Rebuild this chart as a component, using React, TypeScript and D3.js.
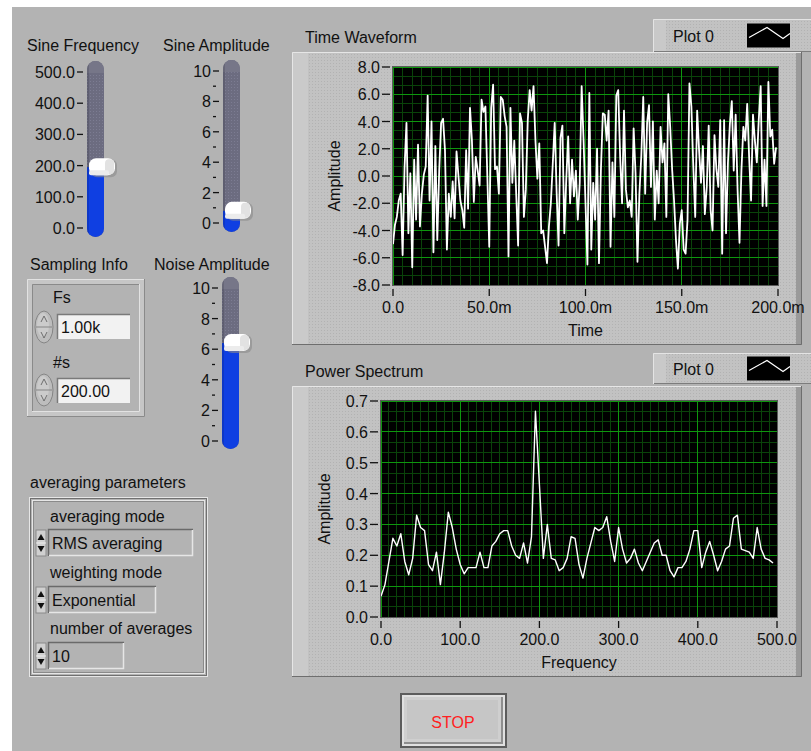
import React from 'react';
import * as d3 from 'd3';

const W = 811;
const H = 751;
const FONT = '"Liberation Sans", Arial, sans-serif';

// front panel control values
const sineFrequency = 195;
const sineAmplitude = 0.8;
const noiseAmplitude = 6.4;
const samplingRate = '1.00k';
const sampleCount = '200.00';
const averagingMode = 'RMS averaging';
const weightingMode = 'Exponential';
const numberOfAverages = '10';

// Time Waveform, 200 samples at Fs = 1 kHz
const waveAmp = [
  -5.0, -3.6, -3.0, -1.8, -1.3, -5.8, 0.6, 3.9, -4.2, 0.2,
  -6.7, 1.2, -3.2, 2.3, -3.7, -1.3, 0.1, 0.7, 5.9, -1.8,
  4.0, -5.6, 2.2, -4.7, 0.4, 3.9, 4.2, 1.9, -5.4, -1.3,
  -3.0, -0.4, -3.1, 1.8, 0.0, -1.8, -2.5, -3.8, 1.9, -2.4,
  5.0, 2.6, -1.9, 1.4, 0.4, -0.7, 5.6, 4.7, 5.1, 0.0,
  -5.2, 5.0, 6.7, 0.5, 0.7, -1.3, 5.8, 5.6, 4.4, 3.6,
  -5.9, 5.0, -0.5, 2.6, -1.3, -5.1, 4.6, 3.9, -3.0, -1.0,
  4.1, 6.3, 4.8, 6.6, 2.6, -0.2, 2.4, -4.2, -4.0, -5.2,
  -6.4, -3.7, -2.0, 0.9, 3.9, -1.2, -5.1, 2.8, 3.7, -4.2,
  -0.3, 2.9, -2.0, 1.2, -1.5, 0.4, -3.2, -0.5, 6.6, 2.6,
  -2.0, -6.5, 6.1, -5.4, -0.5, -3.2, 2.0, -6.4, 0.4, 4.6,
  4.5, 2.6, 4.8, -5.2, 1.0, -3.0, 5.9, 6.3, 1.4, -2.0,
  4.8, -1.0, -2.3, -1.8, -3.0, 3.5, 0.2, -6.3, -1.3, 1.5,
  5.8, -1.3, 3.9, 5.2, -0.8, 4.0, -3.2, 0.4, -2.0, 3.6,
  1.0, 2.4, -3.0, 6.0, 3.6, 0.5, -1.8, -4.7, -6.8, -3.5,
  -2.5, -5.4, -5.7, -3.2, 6.8, 5.1, 0.7, -3.0, 4.8, 1.9,
  -0.5, 2.2, -2.8, -0.8, 3.7, -2.5, -4.0, 3.0, 0.5, -0.8,
  4.1, -5.7, 4.1, -4.2, 1.0, 3.8, 5.5, 0.4, 4.5, -1.0,
  -4.9, 0.4, 3.6, 2.6, 5.3, 1.4, -1.8, 4.5, 2.6, 1.0,
  4.1, 6.6, -2.2, 1.2, -2.2, 6.9, 2.9, 3.4, 0.9, 2.1,
];

// Power Spectrum, 5 Hz bins from 0 to 495 Hz
const specAmp = [
  0.067, 0.105, 0.18, 0.255, 0.23, 0.27, 0.18, 0.137, 0.19, 0.33,
  0.29, 0.28, 0.17, 0.15, 0.21, 0.105, 0.21, 0.34, 0.29, 0.22,
  0.17, 0.14, 0.16, 0.16, 0.16, 0.21, 0.16, 0.16, 0.23, 0.245,
  0.27, 0.28, 0.28, 0.23, 0.2, 0.19, 0.24, 0.175, 0.26, 0.667,
  0.43, 0.19, 0.3, 0.19, 0.185, 0.15, 0.16, 0.19, 0.26, 0.255,
  0.17, 0.126, 0.19, 0.24, 0.29, 0.28, 0.29, 0.325, 0.245, 0.18,
  0.29, 0.22, 0.175, 0.19, 0.22, 0.175, 0.15, 0.18, 0.21, 0.24,
  0.25, 0.2, 0.2, 0.15, 0.13, 0.16, 0.16, 0.18, 0.22, 0.28,
  0.28, 0.16, 0.21, 0.245, 0.2, 0.15, 0.18, 0.22, 0.23, 0.32,
  0.33, 0.22, 0.215, 0.21, 0.19, 0.29, 0.22, 0.19, 0.185, 0.175,
];

const timeTicks = [0, 0.05, 0.1, 0.15, 0.2];
const timeTickLabels = ['0.0', '50.0m', '100.0m', '150.0m', '200.0m'];
const ampTicks = [-8, -6, -4, -2, 0, 2, 4, 6, 8];
const freqTicks = [0, 100, 200, 300, 400, 500];
const powerTicks = [0, 0.1, 0.2, 0.3, 0.4, 0.5, 0.6, 0.7];
const freqSlideTicks = [0, 100, 200, 300, 400, 500];
const levelTicks = [0, 2, 4, 6, 8, 10];
const levelMinor = [1, 3, 5, 7, 9];

const PANEL = '#b3b3b3';

type GraphProps = {
  title: string; titleY: number; frameTop: number; frameBottom: number;
  plot: { l: number; t: number; r: number; b: number };
  xDomain: [number, number]; yDomain: [number, number];
  xTicks: number[]; xLabel: (d: number, i: number) => string; xMinor: number;
  yTicks: number[]; yLabel: (d: number) => string; yMinor: number;
  points: [number, number][]; lineWidth: number; xTitle: string; yTitleX: number;
  legendTop: number; legendBottom: number;
};

function Graph(p: GraphProps) {
  const x = d3.scaleLinear().domain(p.xDomain).range([p.plot.l, p.plot.r]);
  const y = d3.scaleLinear().domain(p.yDomain).range([p.plot.b, p.plot.t]);
  const xMin = d3.range(p.xDomain[0], p.xDomain[1] + 1e-9, p.xMinor);
  const yMin = d3.range(p.yDomain[0], p.yDomain[1] + 1e-9, p.yMinor);
  const line = d3.line<[number, number]>().x(d => x(d[0])).y(d => y(d[1]));
  const fx0 = 292, fx1 = 802;
  const lg = { l: 653, r: 811, t: p.legendTop, b: p.legendBottom };
  const lgMid = (lg.t + lg.b) / 2;
  return (
    <g>
      <text x={fx0 + 13} y={p.titleY} fontSize={16}>{p.title}</text>
      {/* legend */}
      <rect x={lg.l} y={lg.t} width={lg.r - lg.l} height={lg.b - lg.t} fill="url(#stip)" />
      <path d={`M${lg.l + 0.5},${lg.b} V${lg.t + 0.5} H${lg.r}`} stroke="#e4e4e4" fill="none" />
      <path d={`M${lg.l + 1},${lg.b - 0.5} H${lg.r}`} stroke="#7c7c7c" fill="none" />
      <rect x={lg.l + 1} y={lg.t + 1} width={12} height={lg.b - lg.t - 2} fill="#c9c9c9" />
      <text x={673} y={lgMid + 6} fontSize={16}>Plot 0</text>
      <rect x={747} y={lgMid - 12} width={43} height={24} fill="#000" />
      <polyline points={`749,${lgMid + 2} 767,${lgMid - 8} 783,${lgMid + 3} 790,${lgMid - 2}`} stroke="#fff" fill="none" strokeWidth={1.2} />
      {/* frame */}
      <rect x={fx0} y={p.frameTop} width={fx1 - fx0} height={p.frameBottom - p.frameTop} fill="url(#stip)" />
      <rect x={fx0} y={p.frameTop} width={16} height={p.frameBottom - p.frameTop} fill="#cacaca" />
      <rect x={fx1 - 6} y={p.frameTop} width={6} height={p.frameBottom - p.frameTop} fill="#9a9a9a" />
      <path d={`M${fx0 + 0.5},${p.frameBottom} V${p.frameTop + 0.5} H${fx1}`} stroke="#e6e6e6" fill="none" />
      <path d={`M${fx0},${p.frameBottom - 0.5} H${fx1 - 0.5} V${p.frameTop}`} stroke="#6e6e6e" fill="none" />
      {/* plot area */}
      <rect x={p.plot.l} y={p.plot.t} width={p.plot.r - p.plot.l} height={p.plot.b - p.plot.t} fill="#000" />
      <g strokeWidth={1} shapeRendering="crispEdges">
        {xMin.map((d, i) => <line key={'xm' + i} x1={x(d)} x2={x(d)} y1={p.plot.t} y2={p.plot.b} stroke="#0a430a" />)}
        {yMin.map((d, i) => <line key={'ym' + i} y1={y(d)} y2={y(d)} x1={p.plot.l} x2={p.plot.r} stroke="#0a430a" />)}
        {p.xTicks.map((d, i) => <line key={'xM' + i} x1={x(d)} x2={x(d)} y1={p.plot.t} y2={p.plot.b} stroke="#0e960e" />)}
        {p.yTicks.map((d, i) => <line key={'yM' + i} y1={y(d)} y2={y(d)} x1={p.plot.l} x2={p.plot.r} stroke="#0e960e" />)}
      </g>
      <path d={line(p.points) || ''} stroke="#fff" strokeWidth={p.lineWidth} strokeLinejoin="round" fill="none" />
      <rect x={p.plot.l - 0.5} y={p.plot.t - 0.5} width={p.plot.r - p.plot.l + 1} height={p.plot.b - p.plot.t + 1} fill="none" stroke="#5a5a5a" />
      {/* y axis */}
      {p.yTicks.map((d, i) => (
        <g key={'yt' + i}>
          <line x1={p.plot.l - 11} x2={p.plot.l - 3} y1={y(d)} y2={y(d)} stroke="#111" strokeWidth={1.3} />
          <text x={p.plot.l - 13} y={y(d) + 6} fontSize={16} textAnchor="end">{p.yLabel(d)}</text>
        </g>
      ))}
      {/* x axis */}
      {p.xTicks.map((d, i) => (
        <g key={'xt' + i}>
          <line x1={x(d)} x2={x(d)} y1={p.plot.b + 4} y2={p.plot.b + 11} stroke="#111" strokeWidth={1.3} />
          <text x={x(d)} y={p.plot.b + 28} fontSize={16} textAnchor="middle">{p.xLabel(d, i)}</text>
        </g>
      ))}
      <text x={(p.plot.l + p.plot.r) / 2} y={p.plot.b + 51} fontSize={16} textAnchor="middle">{p.xTitle}</text>
      <text transform={`translate(${p.yTitleX},${(p.plot.t + p.plot.b) / 2}) rotate(-90)`} fontSize={16} textAnchor="middle">Amplitude</text>
    </g>
  );
}

type SlideProps = {
  label: string; labelX: number; labelY: number;
  trackX: number; trackTop: number; trackBottom: number;
  domain: [number, number]; range: [number, number];
  ticks: number[]; minor: number[]; fmt: (d: number) => string; value: number;
};

function Slide(s: SlideProps) {
  const y = d3.scaleLinear().domain(s.domain).range(s.range);
  const tw = 17;
  const vy = y(s.value);
  const clipId = 'clip' + s.label.replace(/\s/g, '');
  return (
    <g>
      <text x={s.labelX} y={s.labelY} fontSize={16}>{s.label}</text>
      <clipPath id={clipId}>
        <rect x={s.trackX} y={s.trackTop} width={tw} height={s.trackBottom - s.trackTop} rx={8.5} />
      </clipPath>
      <g clipPath={`url(#${clipId})`}>
        <rect x={s.trackX} y={s.trackTop} width={tw} height={s.trackBottom - s.trackTop} fill="#6c6c80" />
        <rect x={s.trackX} y={s.trackTop} width={tw} height={s.trackBottom - s.trackTop} fill="url(#trackDots)" />
        <rect x={s.trackX} y={s.trackTop} width={tw} height={12} fill="#767688" />
        <rect x={s.trackX} y={vy} width={tw} height={s.trackBottom - vy} fill="#0f3fe2" />
        <rect x={s.trackX} y={s.trackTop} width={2} height={s.trackBottom - s.trackTop} fill="#000" opacity={0.12} />
      </g>
      {s.ticks.map((d, i) => (
        <g key={'t' + i}>
          <line x1={s.trackX - 10} x2={s.trackX - 4} y1={y(d)} y2={y(d)} stroke="#111" strokeWidth={1.3} />
          <text x={s.trackX - 12} y={y(d) + 6} fontSize={16} textAnchor="end">{s.fmt(d)}</text>
        </g>
      ))}
      {s.minor.map((d, i) => (
        <line key={'m' + i} x1={s.trackX - 10} x2={s.trackX - 7} y1={y(d)} y2={y(d)} stroke="#111" strokeWidth={1.3} />
      ))}
      {/* thumb */}
      <rect x={s.trackX + 4} y={vy - 8} width={26} height={18} rx={6} fill="#8a8a8a" opacity={0.6} />
      <rect x={s.trackX + 2} y={vy - 9} width={26} height={17} rx={7} fill="#ffffff" />
      <rect x={s.trackX + 18} y={vy - 8} width={9} height={15} rx={4} fill="#e2e2e2" />
      <rect x={s.trackX + 2} y={vy + 3} width={20} height={5} rx={2} fill="#ececec" />
    </g>
  );
}

function Spinner({ cx, cy }: { cx: number; cy: number }) {
  return (
    <g>
      <ellipse cx={cx} cy={cy} rx={9} ry={16} fill="#bdbdbd" stroke="#858585" />
      <ellipse cx={cx - 1} cy={cy - 2} rx={6} ry={12} fill="#cbcbcb" />
      <line x1={cx - 8} x2={cx + 8} y1={cy} y2={cy} stroke="#858585" />
      <path d={`M${cx - 3},${cy - 5} L${cx},${cy - 11} L${cx + 3},${cy - 5}`} stroke="#6e6e6e" fill="none" />
      <path d={`M${cx - 3},${cy + 5} L${cx},${cy + 11} L${cx + 3},${cy + 5}`} stroke="#6e6e6e" fill="none" />
    </g>
  );
}

function Ring({ x, y, w, text }: { x: number; y: number; w: number; text: string }) {
  const h = 27;
  return (
    <g>
      <rect x={x - 12} y={y + 1} width={10} height={h - 1} fill="#d0d0d0" stroke="#8a8a8a" />
      <path d={`M${x - 10.5},${y + 11} L${x - 7},${y + 5} L${x - 3.5},${y + 11} Z`} fill="#111" />
      <path d={`M${x - 10.5},${y + 17} L${x - 7},${y + 23} L${x - 3.5},${y + 17} Z`} fill="#111" />
      <line x1={x - 12} x2={x - 2} y1={y + 14} y2={y + 14} stroke="#eee" />
      <rect x={x} y={y} width={w} height={h} fill={PANEL} />
      <path d={`M${x + 0.5},${y + h} V${y + 0.5} H${x + w}`} stroke="#6a6a6a" strokeWidth={1.5} fill="none" />
      <path d={`M${x + 1},${y + h - 0.5} H${x + w - 0.5} V${y + 1}`} stroke="#e6e6e6" strokeWidth={1.5} fill="none" />
      <text x={x + 4} y={y + 20} fontSize={16}>{text}</text>
    </g>
  );
}

function NumBox({ x, y, w, text }: { x: number; y: number; w: number; text: string }) {
  const h = 25;
  return (
    <g>
      <rect x={x} y={y} width={w} height={h} fill="#f2f2f2" />
      <path d={`M${x + 0.5},${y + h} V${y + 0.5} H${x + w}`} stroke="#7a7a7a" strokeWidth={1.5} fill="none" />
      <text x={x + 4} y={y + 19} fontSize={16}>{text}</text>
    </g>
  );
}

export default function App() {
  const wavePoints: [number, number][] = waveAmp.map((v, i) => [i / 1000, v]);
  const specPoints: [number, number][] = specAmp.map((v, i) => [i * 5, v]);
  const fmt1 = (d: number) => d.toFixed(1);
  return (
    <svg width={W} height={H} viewBox={`0 0 ${W} ${H}`}
      style={{ position: 'absolute', left: 0, top: 0, display: 'block' }}
      fontFamily={FONT} fill="#111">
      <defs>
        <pattern id="stip" width={3} height={3} patternUnits="userSpaceOnUse">
          <rect width={3} height={3} fill="#c2c2c2" />
          <rect width={1} height={1} fill="#b2b2b2" />
        </pattern>
        <pattern id="trackDots" width={3} height={3} patternUnits="userSpaceOnUse">
          <rect width={1} height={1} fill="#7c7c92" />
        </pattern>
      </defs>
      <rect width={W} height={H} fill="#fff" />
      <rect x={12} y={7} width={W - 12} height={H - 7} fill={PANEL} />

      {/* sliders */}
      <Slide label="Sine Frequency" labelX={27} labelY={51} trackX={87} trackTop={61} trackBottom={237}
        domain={[0, 500]} range={[228, 72]} ticks={freqSlideTicks} minor={[]} fmt={fmt1} value={sineFrequency} />
      <Slide label="Sine Amplitude" labelX={163} labelY={51} trackX={223} trackTop={60} trackBottom={232}
        domain={[0, 10]} range={[223, 71]} ticks={levelTicks} minor={levelMinor} fmt={d => String(d)} value={sineAmplitude} />
      <Slide label="Noise Amplitude" labelX={154} labelY={270} trackX={222} trackTop={277} trackBottom={449}
        domain={[0, 10]} range={[441, 288]} ticks={levelTicks} minor={levelMinor} fmt={d => String(d)} value={noiseAmplitude} />

      {/* Sampling Info cluster */}
      <text x={30} y={270} fontSize={16}>Sampling Info</text>
      <rect x={27} y={279} width={118} height={138} fill="#c6c6c6" />
      <rect x={32} y={284} width={108} height={128} fill={PANEL} />
      <path d="M27.5,417 V279.5 H145" stroke="#e2e2e2" fill="none" />
      <path d="M27,416.5 H144.5 V279" stroke="#8a8a8a" fill="none" />
      <path d="M32.5,412 V284.5 H140" stroke="#8a8a8a" fill="none" />
      <path d="M32,411.5 H139.5 V284" stroke="#e2e2e2" fill="none" />
      <text x={53} y={303} fontSize={16}>Fs</text>
      <Spinner cx={44} cy={327} />
      <NumBox x={57} y={314} w={73} text={samplingRate} />
      <text x={53} y={368} fontSize={16}>#s</text>
      <Spinner cx={44} cy={390} />
      <NumBox x={57} y={378} w={73} text={sampleCount} />

      {/* averaging parameters cluster */}
      <text x={30} y={488} fontSize={16}>averaging parameters</text>
      <rect x={29.5} y={497.5} width={178} height={179} fill="none" stroke="#e6e6e6" />
      <rect x={30.5} y={498.5} width={176} height={177} fill="none" stroke="#707070" />
      <rect x={32.5} y={500.5} width={172} height={173} fill="none" stroke="#e6e6e6" />
      <rect x={33.5} y={501.5} width={170} height={171} fill="none" stroke="#8a8a8a" />
      <text x={50} y={522} fontSize={16}>averaging mode</text>
      <Ring x={48} y={529} w={145} text={averagingMode} />
      <text x={50} y={578} fontSize={16}>weighting mode</text>
      <Ring x={48} y={586} w={108} text={weightingMode} />
      <text x={50} y={634} fontSize={16}>number of averages</text>
      <Ring x={48} y={642} w={76} text={numberOfAverages} />

      {/* graphs */}
      <Graph title="Time Waveform" titleY={43} frameTop={52} frameBottom={345}
        plot={{ l: 393, t: 67, r: 778, b: 285 }} xDomain={[0, 0.2]} yDomain={[-8, 8]}
        xTicks={timeTicks} xLabel={(d, i) => timeTickLabels[i]} xMinor={0.005}
        yTicks={ampTicks} yLabel={fmt1} yMinor={2 / 3}
        points={wavePoints} lineWidth={1.8} xTitle="Time" yTitleX={340} legendTop={19} legendBottom={52} />
      <Graph title="Power Spectrum" titleY={377} frameTop={386} frameBottom={677}
        plot={{ l: 381, t: 401, r: 777, b: 617 }} xDomain={[0, 500]} yDomain={[0, 0.7]}
        xTicks={freqTicks} xLabel={d => fmt1(d)} xMinor={10}
        yTicks={powerTicks} yLabel={fmt1} yMinor={0.1 / 3}
        points={specPoints} lineWidth={1.4} xTitle="Frequency" yTitleX={330} legendTop={353} legendBottom={384} />

      {/* STOP button */}
      <rect x={400} y={693} width={107} height={55} fill="#5c5c5c" />
      <rect x={402} y={695} width={103} height={51} fill="#e0e0e0" />
      <rect x={404} y={697} width={99} height={47} fill="#8e8e8e" />
      <rect x={404} y={697} width={97} height={45} fill="#cfcfcf" />
      <rect x={407} y={700} width={91} height={39} fill="#c6c6c6" />
      <text x={453} y={728} fontSize={16} textAnchor="middle" fill="#ff2020">STOP</text>
    </svg>
  );
}
